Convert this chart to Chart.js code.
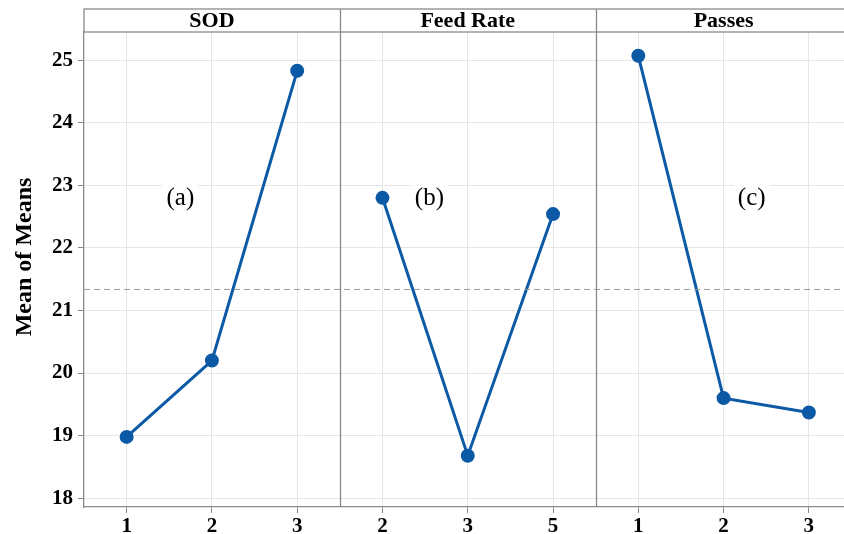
<!DOCTYPE html>
<html>
<head>
<meta charset="utf-8">
<script src="https://cdn.jsdelivr.net/npm/chart.js@4"></script>
<style>
html, body { margin: 0; padding: 0; background: #fff; overflow: hidden; }
</style>
</head>
<body>
<canvas id="meansChart" width="860" height="534"></canvas>
<script>
// factors, one panel each
const factors = ["SOD", "Feed Rate", "Passes"];
const panelTags = ["(a)", "(b)", "(c)"];
// levels of each factor (x tick labels)
const sodLevels = ["1", "2", "3"];
const feedLevels = ["2", "3", "5"];
const passLevels = ["1", "2", "3"];
// mean of means for each level
const sodMeans = [18.98, 20.20, 24.83];
const feedMeans = [22.80, 18.68, 22.54];
const passMeans = [25.07, 19.60, 19.37];
// y axis ticks
const yTicks = [18, 19, 20, 21, 22, 23, 24, 25];
const yTitle = "Mean of Means";

const levels = [sodLevels, feedLevels, passLevels];
const means = [sodMeans, feedMeans, passMeans];
const grandMean = sodMeans.reduce((a, b) => a + b, 0) / sodMeans.length;

const serif = "'Liberation Serif', 'DejaVu Serif', serif";
const blue = "#0c5aa6";
const frame = "#8a8a8a";

// each panel covers 3 units on the x scale, levels sit at the middle of each unit
const tickPos = [];
const tickText = [];
levels.forEach((lv, p) => lv.forEach((t, i) => { tickPos.push(p * 3 + i + 0.5); tickText.push(t); }));

const datasets = means.map((vals, p) => ({
  data: vals.map((v, i) => ({ x: p * 3 + i + 0.5, y: v })),
  borderColor: blue,
  backgroundColor: blue,
  borderWidth: 3,
  pointRadius: 5.5,
  pointHoverRadius: 5.5,
  tension: 0
}));
datasets.unshift({
  data: [{ x: 0, y: grandMean }, { x: 9, y: grandMean }],
  borderColor: "#9a9a9a",
  borderWidth: 1,
  borderDash: [6, 4],
  pointRadius: 0
});

// panel strips, dividers, y title and (a)(b)(c) tags
const panelPlugin = {
  id: "panels",
  beforeDatasetsDraw(chart) {
    const ctx = chart.ctx;
    const xs = chart.scales.x, ys = chart.scales.y;
    ctx.save();
    ctx.font = "25px " + serif;
    ctx.textAlign = "center";
    ctx.textBaseline = "middle";
    const tagX = [1.13, 4.05, 7.83];
    panelTags.forEach((t, i) => {
      const px = xs.getPixelForValue(tagX[i]);
      const py = ys.getPixelForValue(22.8);
      const w = ctx.measureText(t).width;
      ctx.fillStyle = "#fff";
      ctx.fillRect(px - w / 2 - 4, py - 14, w + 8, 28);
      ctx.fillStyle = "#000";
      ctx.fillText(t, px, py + 1);
    });
    ctx.restore();
  },
  afterDraw(chart) {
    const ctx = chart.ctx;
    const a = chart.chartArea;
    const xs = chart.scales.x;
    const stripTop = 9;
    ctx.save();
    ctx.strokeStyle = frame;
    ctx.lineWidth = 1.3;
    ctx.fillStyle = "#fff";
    ctx.fillRect(a.left, stripTop, a.right - a.left, a.top - stripTop);
    ctx.strokeRect(a.left, stripTop, a.right - a.left, a.top - stripTop);
    ctx.beginPath();
    [3, 6].forEach(v => {
      const px = Math.round(xs.getPixelForValue(v)) + 0.5;
      ctx.moveTo(px, stripTop);
      ctx.lineTo(px, a.bottom);
    });
    ctx.moveTo(a.right, stripTop);
    ctx.lineTo(a.right, a.bottom);
    ctx.stroke();
    ctx.fillStyle = "#000";
    ctx.font = "bold 22px " + serif;
    ctx.textAlign = "center";
    ctx.textBaseline = "middle";
    factors.forEach((f, p) => {
      const cx = (xs.getPixelForValue(p * 3) + xs.getPixelForValue(p * 3 + 3)) / 2;
      ctx.fillText(f, cx, (stripTop + a.top) / 2 + 1);
    });
    // y axis title
    ctx.translate(25, 257);
    ctx.rotate(-Math.PI / 2);
    ctx.font = "bold 24px " + serif;
    ctx.fillText(yTitle, 0, 0);
    ctx.restore();
  }
};

new Chart("meansChart", {
  type: "line",
  data: { datasets: datasets },
  options: {
    responsive: false,
    animation: false,
    devicePixelRatio: 1,
    layout: { padding: { top: 32, right: 8, left: 0, bottom: 0 } },
    plugins: { legend: { display: false }, tooltip: { enabled: false } },
    scales: {
      x: {
        type: "linear",
        min: 0,
        max: 9,
        afterBuildTicks: s => { s.ticks = tickPos.map(v => ({ value: v })); },
        afterFit: s => { s.height = 27; },
        ticks: {
          autoSkip: false,
          maxRotation: 0,
          padding: 1,
          color: "#000",
          font: { family: serif, size: 21, weight: "bold" },
          callback: (v, i) => tickText[i]
        },
        grid: { color: "#e6e6e6", lineWidth: 1, tickLength: 6, tickColor: frame },
        border: { color: frame, width: 1.3 }
      },
      y: {
        min: 17.86,
        max: 25.45,
        afterBuildTicks: s => { s.ticks = yTicks.map(v => ({ value: v })); },
        afterFit: s => { s.width = 84; },
        ticks: {
          padding: 5,
          color: "#000",
          font: { family: serif, size: 21, weight: "bold" }
        },
        grid: { color: "#e6e6e6", lineWidth: 1, tickLength: 6, tickColor: frame },
        border: { color: frame, width: 1.3 }
      }
    }
  },
  plugins: [panelPlugin]
});
</script>
</body>
</html>
